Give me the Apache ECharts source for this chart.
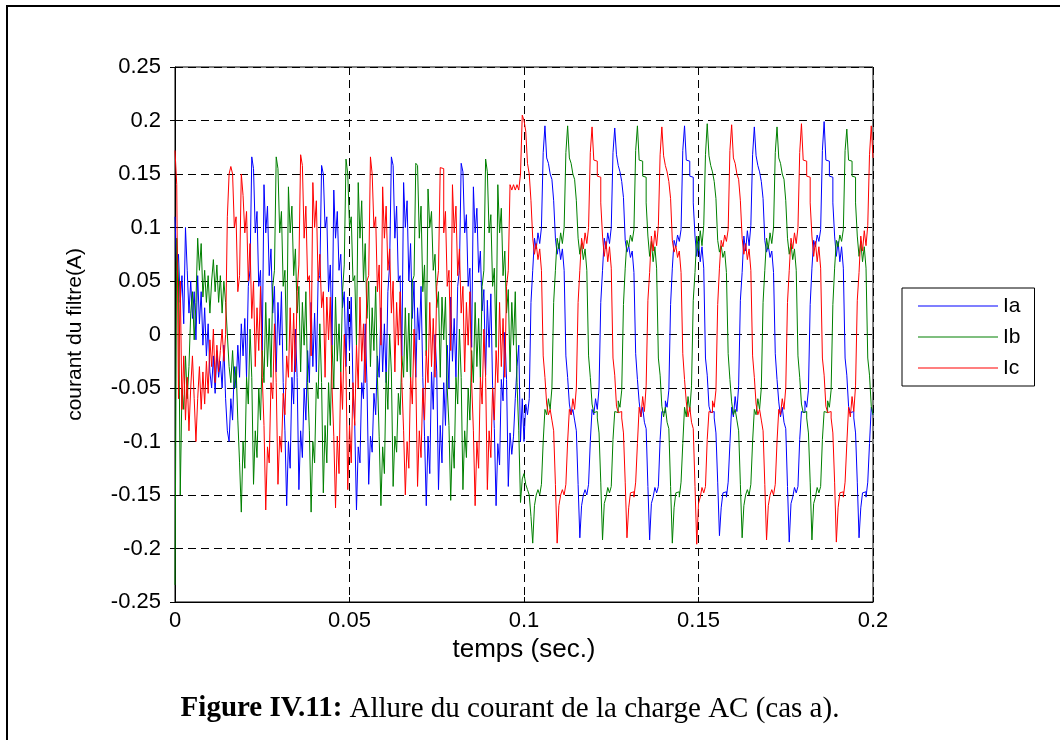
<!DOCTYPE html>
<html>
<head>
<meta charset="utf-8">
<script src="https://cdn.jsdelivr.net/npm/echarts@6.0.0/dist/echarts.min.js"></script>
<style>
  html, body { margin: 0; padding: 0; background: #fff; }
  #chart { width: 1060px; height: 740px; }
</style>
</head>
<body>
<div id="chart"></div>
<script>
// pas d'echantillonnage (s) : un point toutes les 0.5 ms, de 0 a 0.2 s
const DT = 0.0005;

// courant Ia (une ligne de 40 valeurs = 20 ms)
const ia = [
  0.110, 0.060, 0.075, 0.030, 0.055, 0.010, 0.100, 0.060, 0.020, 0.050,
  0.015, 0.040, -0.005, 0.055, 0.010, 0.040, -0.010, 0.025, -0.020, 0.010,
  -0.035, -0.050, -0.020, -0.055, -0.015, -0.040, -0.025, -0.050, -0.010, -0.060,
  -0.090, -0.100, -0.060, -0.080, -0.030, -0.050, -0.010, -0.040, 0.010, -0.020,
  // 0.02
  0.015, -0.040, 0.045, 0.060, 0.166, 0.155, 0.095, 0.115, 0.045, 0.060,
  -0.015, 0.140, 0.095, 0.120, 0.055, 0.080, 0.020, 0.045, -0.035, 0.030,
  -0.010, 0.040, -0.045, -0.090, -0.160, -0.100, -0.125, -0.040, -0.065, 0.005,
  -0.040, -0.145, -0.090, -0.115, -0.050, -0.080, -0.015, -0.045, 0.030, -0.030,
  // 0.04
  0.020, -0.035, 0.050, 0.055, 0.158, 0.150, 0.100, 0.110, 0.040, 0.065,
  -0.010, 0.135, 0.090, 0.115, 0.060, 0.075, 0.025, 0.040, -0.030, 0.035,
  -0.015, 0.035, -0.050, -0.085, -0.164, -0.105, -0.120, -0.045, -0.060, 0.010,
  -0.045, -0.140, -0.095, -0.110, -0.055, -0.075, -0.020, -0.040, 0.025, -0.035,
  // 0.06
  0.010, -0.045, 0.040, 0.065, 0.166, 0.158, 0.090, 0.120, 0.050, 0.055,
  -0.020, 0.142, 0.100, 0.125, 0.050, 0.085, 0.015, 0.050, -0.040, 0.025,
  -0.005, 0.045, -0.040, -0.095, -0.160, -0.095, -0.130, -0.035, -0.070, 0.000,
  -0.035, -0.145, -0.085, -0.120, -0.045, -0.085, -0.010, -0.050, 0.035, -0.025,
  // 0.08
  0.015, -0.040, 0.045, 0.060, 0.160, 0.152, 0.095, 0.112, 0.045, 0.062,
  -0.012, 0.138, 0.095, 0.118, 0.058, 0.078, 0.022, 0.042, -0.038, 0.032,
  -0.012, 0.038, -0.048, -0.088, -0.160, -0.102, -0.122, -0.042, -0.062, 0.002,
  -0.042, -0.142, -0.092, -0.112, -0.095, -0.060, -0.030, -0.010, -0.100, -0.060,
  // 0.10
  -0.100, -0.065, -0.075, -0.060, 0.030, 0.060, 0.090, 0.080, 0.095, 0.085,
  0.100, 0.170, 0.195, 0.165, 0.160, 0.150, 0.145, 0.125, 0.090, 0.075,
  0.085, 0.070, 0.080, 0.060, -0.020, -0.040, -0.065, -0.075, -0.070, -0.080,
  -0.090, -0.140, -0.190, -0.160, -0.150, -0.145, -0.150, -0.140, -0.100, -0.070,
  // 0.12
  -0.075, -0.060, -0.070, -0.050, 0.030, 0.060, 0.090, 0.080, 0.095, 0.085,
  0.100, 0.170, 0.193, 0.168, 0.158, 0.152, 0.143, 0.128, 0.088, 0.077,
  0.083, 0.072, 0.078, 0.058, -0.018, -0.042, -0.063, -0.077, -0.068, -0.082,
  -0.088, -0.142, -0.192, -0.158, -0.152, -0.143, -0.148, -0.142, -0.098, -0.072,
  // 0.14
  -0.073, -0.062, -0.068, -0.052, 0.028, 0.062, 0.088, 0.082, 0.093, 0.087,
  0.098, 0.172, 0.195, 0.163, 0.162, 0.148, 0.147, 0.123, 0.092, 0.073,
  0.087, 0.068, 0.082, 0.062, -0.022, -0.038, -0.067, -0.073, -0.072, -0.078,
  -0.092, -0.138, -0.188, -0.162, -0.148, -0.147, -0.152, -0.138, -0.102, -0.068,
  // 0.16
  -0.077, -0.058, -0.072, -0.048, 0.032, 0.058, 0.092, 0.078, 0.097, 0.083,
  0.102, 0.168, 0.194, 0.167, 0.158, 0.152, 0.143, 0.127, 0.088, 0.077,
  0.083, 0.072, 0.078, 0.058, -0.018, -0.042, -0.063, -0.077, -0.068, -0.082,
  -0.088, -0.142, -0.194, -0.158, -0.152, -0.143, -0.148, -0.142, -0.098, -0.072,
  // 0.18
  -0.073, -0.062, -0.068, -0.052, 0.028, 0.062, 0.088, 0.082, 0.093, 0.087,
  0.098, 0.172, 0.199, 0.163, 0.162, 0.148, 0.147, 0.123, 0.092, 0.073,
  0.087, 0.068, 0.082, 0.062, -0.022, -0.038, -0.067, -0.073, -0.072, -0.078,
  -0.092, -0.138, -0.190, -0.162, -0.148, -0.147, -0.152, -0.138, -0.102, -0.068,
  // 0.20
  -0.075
];

// courant Ib
const ib = [
  -0.234, 0.090, 0.050, -0.150, -0.050, -0.070, -0.020, -0.060, -0.030, 0.020,
  0.040, -0.005, 0.030, 0.090, 0.060, 0.085, 0.035, 0.060, 0.030, 0.055,
  0.020, 0.050, 0.070, 0.040, 0.065, 0.030, 0.055, 0.020, 0.050, 0.030,
  0.000, -0.030, -0.045, -0.015, -0.050, -0.030, -0.080, -0.120, -0.166, -0.100,
  // 0.02
  -0.125, -0.040, -0.065, 0.005, -0.040, -0.140, -0.090, -0.115, -0.050, -0.080,
  -0.015, -0.045, 0.030, -0.030, 0.015, -0.040, 0.045, 0.060, 0.166, 0.155,
  0.095, 0.115, 0.045, 0.060, -0.015, 0.138, 0.095, 0.120, 0.055, 0.080,
  0.020, 0.045, -0.035, 0.030, -0.010, 0.040, -0.045, -0.090, -0.166, -0.100,
  // 0.04
  -0.120, -0.045, -0.060, 0.010, -0.045, -0.148, -0.085, -0.120, -0.045, -0.085,
  -0.010, -0.050, 0.035, -0.025, 0.010, -0.035, 0.040, 0.065, 0.164, 0.150,
  0.100, 0.110, 0.050, 0.055, -0.010, 0.142, 0.090, 0.125, 0.050, 0.085,
  0.015, 0.050, -0.030, 0.025, -0.015, 0.045, -0.040, -0.095, -0.160, -0.105,
  // 0.06
  -0.130, -0.035, -0.070, 0.000, -0.035, -0.142, -0.095, -0.110, -0.055, -0.075,
  -0.020, -0.040, 0.025, -0.035, 0.020, -0.045, 0.050, 0.055, 0.160, 0.158,
  0.090, 0.120, 0.040, 0.065, -0.020, 0.136, 0.100, 0.115, 0.060, 0.075,
  0.025, 0.040, -0.040, 0.035, -0.005, 0.035, -0.050, -0.085, -0.155, -0.095,
  // 0.08
  -0.125, -0.040, -0.065, 0.005, -0.040, -0.145, -0.090, -0.115, -0.050, -0.080,
  -0.015, -0.045, 0.030, -0.030, 0.015, -0.040, 0.045, 0.060, 0.164, 0.152,
  0.095, 0.112, 0.045, 0.062, -0.012, 0.140, 0.095, 0.118, 0.055, 0.078,
  0.020, 0.042, -0.035, 0.030, -0.010, 0.040, -0.045, -0.090, -0.157, -0.135,
  // 0.10
  -0.130, -0.140, -0.145, -0.150, -0.170, -0.195, -0.160, -0.150, -0.145, -0.150,
  -0.140, -0.100, -0.070, -0.075, -0.060, -0.070, -0.050, 0.030, 0.060, 0.090,
  0.080, 0.095, 0.085, 0.100, 0.170, 0.195, 0.165, 0.160, 0.150, 0.145,
  0.125, 0.090, 0.075, 0.085, 0.070, 0.080, 0.060, -0.020, -0.040, -0.065,
  // 0.12
  -0.073, -0.072, -0.078, -0.092, -0.138, -0.192, -0.158, -0.152, -0.143, -0.148,
  -0.142, -0.098, -0.072, -0.073, -0.062, -0.068, -0.052, 0.028, 0.062, 0.088,
  0.082, 0.093, 0.087, 0.098, 0.172, 0.195, 0.163, 0.162, 0.148, 0.147,
  0.123, 0.092, 0.073, 0.087, 0.068, 0.082, 0.062, -0.022, -0.038, -0.067,
  // 0.14
  -0.077, -0.068, -0.082, -0.088, -0.142, -0.195, -0.162, -0.148, -0.147, -0.152,
  -0.138, -0.102, -0.068, -0.077, -0.058, -0.072, -0.048, 0.032, 0.058, 0.092,
  0.078, 0.097, 0.083, 0.102, 0.168, 0.197, 0.167, 0.158, 0.152, 0.143,
  0.127, 0.088, 0.077, 0.083, 0.072, 0.078, 0.058, -0.018, -0.042, -0.063,
  // 0.16
  -0.075, -0.070, -0.080, -0.090, -0.140, -0.190, -0.160, -0.150, -0.145, -0.150,
  -0.140, -0.100, -0.070, -0.075, -0.060, -0.070, -0.050, 0.030, 0.060, 0.090,
  0.080, 0.095, 0.085, 0.100, 0.170, 0.194, 0.165, 0.160, 0.150, 0.145,
  0.125, 0.090, 0.075, 0.085, 0.070, 0.080, 0.060, -0.020, -0.040, -0.065,
  // 0.18
  -0.073, -0.072, -0.078, -0.092, -0.138, -0.192, -0.158, -0.152, -0.143, -0.148,
  -0.142, -0.098, -0.072, -0.073, -0.062, -0.068, -0.052, 0.028, 0.062, 0.088,
  0.082, 0.093, 0.087, 0.098, 0.172, 0.192, 0.163, 0.162, 0.148, 0.147,
  0.123, 0.092, 0.073, 0.087, 0.068, 0.082, 0.062, -0.022, -0.038, -0.067,
  // 0.20
  -0.075
];

// courant Ic
const ic = [
  0.172, 0.140, -0.060, 0.050, -0.070, -0.020, -0.080, -0.040, -0.090, -0.050,
  -0.020, -0.060, -0.100, -0.060, -0.030, -0.070, -0.035, -0.065, -0.025, -0.055,
  -0.005, -0.030, 0.005, -0.045, -0.010, -0.035, -0.015, 0.005, -0.025, 0.000,
  0.110, 0.150, 0.157, 0.150, 0.100, 0.110, 0.040, 0.055, 0.150, 0.130,
  // 0.02
  0.095, 0.115, 0.050, 0.085, 0.015, 0.050, -0.030, 0.025, -0.015, 0.045,
  -0.040, -0.085, -0.164, -0.105, -0.120, -0.045, -0.060, 0.010, -0.045, -0.140,
  -0.095, -0.110, -0.055, -0.075, -0.020, -0.040, 0.025, -0.035, 0.020, -0.035,
  0.040, 0.065, 0.168, 0.158, 0.090, 0.120, 0.050, 0.055, -0.020, 0.142,
  // 0.04
  0.100, 0.125, 0.050, 0.075, 0.025, 0.040, -0.040, 0.035, -0.005, 0.035,
  -0.050, -0.095, -0.162, -0.095, -0.130, -0.035, -0.070, 0.000, -0.035, -0.145,
  -0.085, -0.120, -0.045, -0.085, -0.010, -0.050, 0.035, -0.025, 0.010, -0.045,
  0.050, 0.055, 0.166, 0.150, 0.100, 0.110, 0.040, 0.065, -0.010, 0.138,
  // 0.06
  0.090, 0.120, 0.060, 0.080, 0.020, 0.050, -0.035, 0.030, -0.010, 0.040,
  -0.045, -0.090, -0.150, -0.100, -0.125, -0.040, -0.065, 0.005, -0.040, -0.142,
  -0.090, -0.115, -0.050, -0.080, -0.015, -0.045, 0.030, -0.030, 0.015, -0.040,
  0.045, 0.060, 0.156, 0.155, 0.095, 0.115, 0.045, 0.060, -0.015, 0.140,
  // 0.08
  0.095, 0.120, 0.055, 0.080, 0.020, 0.045, -0.035, 0.030, -0.010, 0.040,
  -0.045, -0.090, -0.160, -0.100, -0.125, -0.040, -0.065, 0.005, -0.040, -0.145,
  -0.090, -0.115, -0.050, -0.080, -0.015, -0.045, 0.030, -0.030, 0.015, -0.040,
  0.045, 0.060, 0.140, 0.135, 0.140, 0.135, 0.140, 0.135, 0.150, 0.205,
  // 0.10
  0.200, 0.190, 0.160, 0.150, 0.125, 0.090, 0.075, 0.085, 0.070, 0.080,
  0.060, -0.020, -0.040, -0.065, -0.075, -0.070, -0.080, -0.090, -0.140, -0.195,
  -0.160, -0.150, -0.145, -0.150, -0.140, -0.100, -0.070, -0.075, -0.060, -0.070,
  -0.050, 0.030, 0.060, 0.090, 0.080, 0.095, 0.085, 0.100, 0.170, 0.194,
  // 0.12
  0.163, 0.162, 0.148, 0.147, 0.123, 0.092, 0.073, 0.087, 0.068, 0.082,
  0.062, -0.022, -0.038, -0.067, -0.073, -0.072, -0.078, -0.092, -0.138, -0.190,
  -0.162, -0.148, -0.147, -0.152, -0.138, -0.102, -0.068, -0.077, -0.058, -0.072,
  -0.048, 0.032, 0.058, 0.092, 0.078, 0.097, 0.083, 0.102, 0.168, 0.194,
  // 0.14
  0.167, 0.158, 0.152, 0.143, 0.127, 0.088, 0.077, 0.083, 0.072, 0.078,
  0.058, -0.018, -0.042, -0.063, -0.077, -0.068, -0.082, -0.088, -0.142, -0.196,
  -0.158, -0.152, -0.143, -0.148, -0.142, -0.098, -0.072, -0.073, -0.062, -0.068,
  -0.052, 0.028, 0.062, 0.088, 0.082, 0.093, 0.087, 0.098, 0.172, 0.196,
  // 0.16
  0.165, 0.160, 0.150, 0.145, 0.125, 0.090, 0.075, 0.085, 0.070, 0.080,
  0.060, -0.020, -0.040, -0.065, -0.075, -0.070, -0.080, -0.090, -0.140, -0.192,
  -0.160, -0.150, -0.145, -0.150, -0.140, -0.100, -0.070, -0.075, -0.060, -0.070,
  -0.050, 0.030, 0.060, 0.090, 0.080, 0.095, 0.085, 0.100, 0.170, 0.197,
  // 0.18
  0.163, 0.162, 0.148, 0.147, 0.123, 0.092, 0.073, 0.087, 0.068, 0.082,
  0.062, -0.022, -0.038, -0.067, -0.073, -0.072, -0.078, -0.092, -0.138, -0.194,
  -0.162, -0.148, -0.147, -0.152, -0.138, -0.102, -0.068, -0.077, -0.058, -0.072,
  -0.048, 0.032, 0.058, 0.092, 0.078, 0.097, 0.083, 0.102, 0.168, 0.195,
  // 0.20
  0.165
];

const names = ['Ia', 'Ib', 'Ic'];
const colors = ['#0000ff', '#008000', '#ff0000'];

// couples [temps, valeur]
function toPairs(arr) {
  return arr.map((v, i) => [i * DT, v]);
}

const FONT = 'Liberation Sans, Arial, sans-serif';
const SERIF = 'Liberation Serif, Times New Roman, serif';
const chart = echarts.init(document.getElementById('chart'), null, { renderer: 'canvas' });

// axes du haut et de droite : seulement les petites graduations
const hiddenAxis = {
  axisLine: { show: false },
  axisLabel: { show: false },
  splitLine: { show: false },
  axisTick: { show: true, inside: true, length: 5, lineStyle: { color: '#000' } }
};

chart.setOption({
  animation: false,
  backgroundColor: '#fff',
  grid: {
    left: 175, top: 67, width: 698, height: 535,
    show: true, borderColor: '#000', borderWidth: 1, backgroundColor: '#fff'
  },
  legend: {
    data: names,
    orient: 'vertical',
    left: 902, top: 288,
    icon: 'rect',
    itemWidth: 80, itemHeight: 1,
    itemGap: 9,
    padding: [7, 14, 7, 16],
    borderColor: '#000', borderWidth: 1,
    backgroundColor: '#fff',
    textStyle: { fontFamily: FONT, fontSize: 21, color: '#000', lineHeight: 22 }
  },
  xAxis: [{
    type: 'value', min: 0, max: 0.2, interval: 0.05,
    name: 'temps (sec.)', nameLocation: 'middle', nameGap: 35,
    nameTextStyle: { fontFamily: FONT, fontSize: 26, color: '#000' },
    axisLine: { show: true, onZero: false, lineStyle: { color: '#000' } },
    axisTick: { show: true, inside: true, length: 5, lineStyle: { color: '#000' } },
    axisLabel: { fontFamily: FONT, fontSize: 22, color: '#000', margin: 8 },
    splitLine: { show: true, lineStyle: { color: '#000', width: 1, type: [8, 5] } }
  }, Object.assign({ type: 'value', position: 'top', min: 0, max: 0.2, interval: 0.05 }, hiddenAxis)],
  yAxis: [{
    type: 'value', min: -0.25, max: 0.25, interval: 0.05,
    name: 'courant du filtre(A)', nameLocation: 'middle', nameGap: 89,
    nameTextStyle: { fontFamily: FONT, fontSize: 21, color: '#000' },
    axisLine: { show: true, onZero: false, lineStyle: { color: '#000' } },
    axisTick: { show: true, inside: true, length: 5, lineStyle: { color: '#000' } },
    axisLabel: { fontFamily: FONT, fontSize: 22, color: '#000', margin: 14 },
    splitLine: { show: true, lineStyle: { color: '#000', width: 1, type: [8, 5] } }
  }, Object.assign({ type: 'value', position: 'right', min: -0.25, max: 0.25, interval: 0.05 }, hiddenAxis)],
  series: [ia, ib, ic].map((arr, k) => ({
    name: names[k],
    type: 'line',
    data: toPairs(arr),
    step: 'end',
    showSymbol: false,
    symbol: 'none',
    color: colors[k],
    lineStyle: { width: 1, color: colors[k] }
  })),
  graphic: [
    {
      type: 'rect', z: -10, silent: true,
      shape: { x: 7, y: 6, width: 1200, height: 900 },
      style: { fill: 'none', stroke: '#000', lineWidth: 2 }
    },
    {
      type: 'text', silent: true,
      style: {
        x: 510, y: 709,
        align: 'center', verticalAlign: 'middle',
        text: '{b|Figure IV.11:} Allure du courant de la charge AC (cas a).',
        fontFamily: SERIF, fontSize: 29, fill: '#000',
        rich: {
          b: { fontFamily: SERIF, fontSize: 29, fontWeight: 'bold', fill: '#000' }
        }
      }
    }
  ]
});
</script>
</body>
</html>
